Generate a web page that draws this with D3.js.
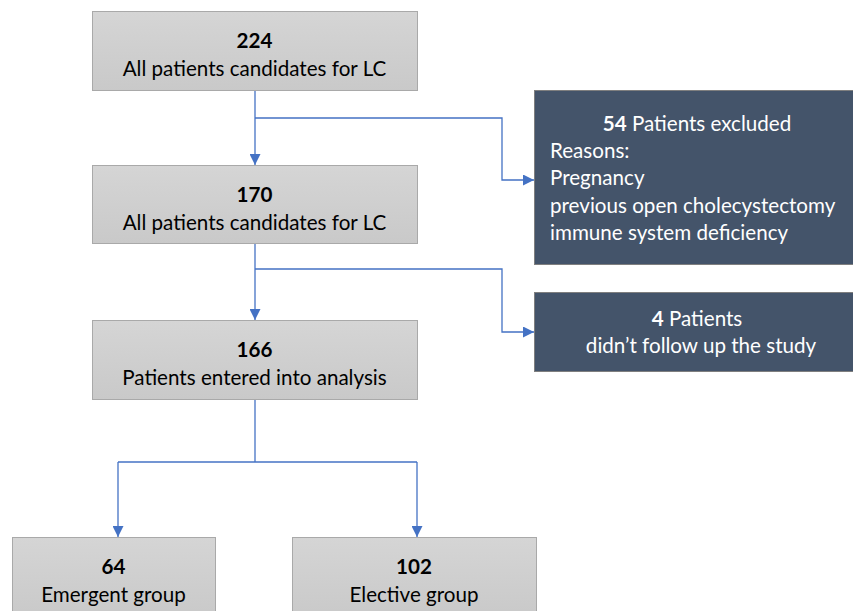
<!DOCTYPE html>
<html><head><meta charset="utf-8">
<script src="https://cdn.jsdelivr.net/npm/d3@7"></script>
<style>html,body{margin:0;padding:0;background:#fff;}svg{display:block;}</style>
</head><body>
<script>
// Data
const nodeIds = ["all", "cand", "analysis", "emergent", "elective", "excluded", "lost"];
const nodeCounts = [224, 170, 166, 64, 102, 54, 4];
const nodeLabels = [
  "All patients candidates for LC",
  "All patients candidates for LC",
  "Patients entered into analysis",
  "Emergent group",
  "Elective group",
  "Patients excluded",
  "Patients"
];
const excludedReasons = ["Reasons:", "Pregnancy", "previous open cholecystectomy", "immune system deficiency"];
const lostReason = ["didn\u2019t follow up the study"];

// Layout
const W = 853, H = 611;
const boxes = {
  all:      {x: 92,  y: 11,  w: 325, h: 79, dark: false},
  cand:     {x: 92,  y: 165, w: 325, h: 78, dark: false},
  analysis: {x: 92,  y: 320, w: 325, h: 79, dark: false},
  emergent: {x: 12,  y: 537, w: 203, h: 80, dark: false},
  elective: {x: 292, y: 537, w: 244, h: 80, dark: false},
  excluded: {x: 534, y: 90,  w: 330, h: 174, dark: true},
  lost:     {x: 534, y: 292, w: 330, h: 79, dark: true}
};
const font = "Lato, 'Open Sans', sans-serif";
const fs = 20.6;
const lineCol = "#4472c4";

const svg = d3.select("body").append("svg").attr("width", W).attr("height", H);
const defs = svg.append("defs");
const g = defs.append("linearGradient").attr("id", "grey").attr("x1", 0).attr("y1", 0).attr("x2", 0).attr("y2", 1);
g.append("stop").attr("offset", "0%").attr("stop-color", "#d5d5d5");
g.append("stop").attr("offset", "100%").attr("stop-color", "#c9c9c9");
defs.append("marker").attr("id", "arr").attr("viewBox", "0 0 10 10").attr("refX", 10).attr("refY", 5)
  .attr("markerWidth", 11).attr("markerHeight", 11).attr("markerUnits", "userSpaceOnUse").attr("orient", "auto")
  .append("path").attr("d", "M0,0L10,5L0,10Z").attr("fill", lineCol);

// Connectors
const line = d3.line();
const connectors = [
  [[255, 90], [255, 165]],
  [[255, 118], [502, 118], [502, 180], [534, 180]],
  [[255, 243], [255, 320]],
  [[255, 269], [502, 269], [502, 332], [534, 332]],
  [[255, 399], [255, 462]],
  [[118, 462], [417, 462]],
  [[118, 462], [118, 537]],
  [[417, 462], [417, 537]]
];
const arrowed = [true, true, true, true, false, false, true, true];
svg.append("g").selectAll("path").data(connectors).join("path")
  .attr("d", d => line(d)).attr("fill", "none").attr("stroke", lineCol).attr("stroke-width", 1.3)
  .attr("marker-end", (d, i) => arrowed[i] ? "url(#arr)" : null);

// Boxes
nodeIds.forEach((id, i) => {
  const b = boxes[id];
  svg.append("rect").attr("x", b.x + 0.5).attr("y", b.y + 0.5).attr("width", b.w).attr("height", b.h)
    .attr("fill", b.dark ? "#44546a" : "url(#grey)")
    .attr("stroke", b.dark ? "#7f7f7f" : "#a9a9a9").attr("stroke-width", 1);
});

function grey(id, i) {
  const b = boxes[id];
  const cx = b.x + b.w / 2;
  const t = svg.append("text").attr("font-family", font).attr("font-size", fs).attr("fill", "#000").attr("text-anchor", "middle");
  t.append("tspan").attr("x", cx).attr("y", b.y + 37).attr("font-weight", "bold").text(nodeCounts[i]);
  t.append("tspan").attr("x", cx).attr("y", b.y + 65).text(nodeLabels[i]);
}
["all", "cand", "analysis", "emergent", "elective"].forEach(id => grey(id, nodeIds.indexOf(id)));

// Excluded box
{
  const i = nodeIds.indexOf("excluded");
  const t = svg.append("text").attr("font-family", font).attr("font-size", fs).attr("fill", "#fff");
  const h = t.append("tspan").attr("x", 697).attr("y", 131).attr("text-anchor", "middle");
  h.append("tspan").attr("font-weight", "bold").text(nodeCounts[i]);
  h.append("tspan").text(" " + nodeLabels[i]);
  excludedReasons.forEach((r, k) => {
    svg.append("text").attr("font-family", font).attr("font-size", fs).attr("fill", "#fff")
      .attr("x", 550).attr("y", 158 + k * 27.3).text(r);
  });
}
// Lost box
{
  const i = nodeIds.indexOf("lost");
  const t = svg.append("text").attr("font-family", font).attr("font-size", fs).attr("fill", "#fff").attr("text-anchor", "middle");
  t.append("tspan").attr("font-weight", "bold").attr("x", 697).attr("y", 326).text(nodeCounts[i]);
  t.append("tspan").text(" " + nodeLabels[i]);
  svg.append("text").attr("font-family", font).attr("font-size", fs).attr("fill", "#fff").attr("text-anchor", "middle")
    .attr("x", 701).attr("y", 353).text(lostReason[0]);
}
</script>
</body></html>
